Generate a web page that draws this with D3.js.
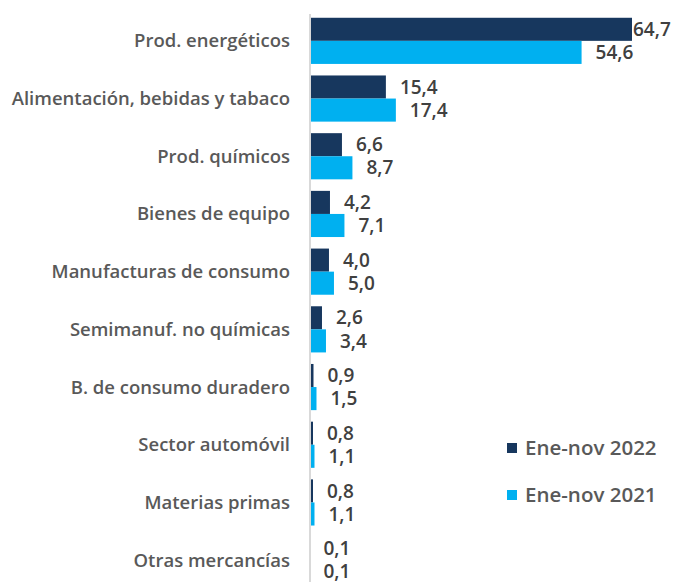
<!DOCTYPE html>
<html>
<head>
<meta charset="utf-8">
<script src="https://cdn.jsdelivr.net/npm/d3@7"></script>
<style>
  body { margin: 0; background: #fff; }
  text { font-family: "Open Sans", sans-serif; }
</style>
</head>
<body>
<div id="chart"></div>
<script>
const categories = [
  'Prod. energéticos',
  'Alimentación, bebidas y tabaco',
  'Prod. químicos',
  'Bienes de equipo',
  'Manufacturas de consumo',
  'Semimanuf. no químicas',
  'B. de consumo duradero',
  'Sector automóvil',
  'Materias primas',
  'Otras mercancías',
];
const values2022 = [64.7, 15.4, 6.6, 4.2, 4.0, 2.6, 0.9, 0.8, 0.8, 0.1];
const values2021 = [54.6, 17.4, 8.7, 7.1, 5.0, 3.4, 1.5, 1.1, 1.1, 0.1];
const seriesNames = ['Ene-nov 2022', 'Ene-nov 2021'];
const colors = ['#17375e', '#00b0f0'];

const width = 673,
  height = 582;

const svg = d3
  .select('#chart')
  .append('svg')
  .attr('width', width)
  .attr('height', height);

const x = d3.scaleLinear().domain([0, 64.7]).range([309, 632]);
const y = d3
  .scaleBand()
  .domain(categories)
  .range([12, 589])
  .paddingInner(0.2)
  .paddingOuter(0.1);
const ySub = d3
  .scaleBand()
  .domain(seriesNames)
  .range([0, y.bandwidth()]);

const fmt = (v) => d3.format('.1f')(v).replace('.', ',');

// category labels
svg
  .append('g')
  .selectAll('text')
  .data(categories)
  .join('text')
  .attr('x', 290)
  .attr('y', (d) => y(d) + y.bandwidth() / 2)
  .attr('dy', '0.35em')
  .attr('text-anchor', 'end')
  .attr('fill', '#595959')
  .attr('font-size', 18.5)
  .attr('font-weight', 600)
  .text((d) => d);

const rows = categories.map((c, i) => ({
  cat: c,
  vals: [values2022[i], values2021[i]],
}));

const groups = svg
  .append('g')
  .selectAll('g')
  .data(rows)
  .join('g')
  .attr('transform', (d) => `translate(0,${y(d.cat)})`);

groups
  .selectAll('rect')
  .data((d) => d.vals.map((v, j) => ({ v, s: seriesNames[j], j })))
  .join('rect')
  .attr('x', x(0))
  .attr('y', (d) => ySub(d.s))
  .attr('width', (d) => x(d.v) - x(0))
  .attr('height', ySub.bandwidth())
  .attr('fill', (d) => colors[d.j]);

groups
  .selectAll('text')
  .data((d) => d.vals.map((v, j) => ({ v, s: seriesNames[j], j })))
  .join('text')
  .attr('x', (d) => Math.min(x(d.v) + 14, 633))
  .attr('y', (d) => ySub(d.s) + ySub.bandwidth() / 2)
  .attr('dy', '0.35em')
  .attr('fill', '#404040')
  .attr('font-size', 19)
  .attr('font-weight', 600)
  .text((d) => fmt(d.v));

// axis line
svg
  .append('line')
  .attr('x1', 310)
  .attr('x2', 310)
  .attr('y1', 14)
  .attr('y2', height)
  .attr('stroke', '#d9d9d9')
  .attr('stroke-width', 2);

// legend
const legend = svg
  .append('g')
  .selectAll('g')
  .data(seriesNames)
  .join('g')
  .attr('transform', (d, i) => `translate(507,${443 + i * 47})`);

legend
  .append('rect')
  .attr('width', 10)
  .attr('height', 10)
  .attr('fill', (d, i) => colors[i]);

legend
  .append('text')
  .attr('x', 18)
  .attr('y', 5)
  .attr('dy', '0.35em')
  .attr('fill', '#595959')
  .attr('font-size', 20.5)
  .attr('font-weight', 600)
  .text((d) => d);
</script>
</body>
</html>
